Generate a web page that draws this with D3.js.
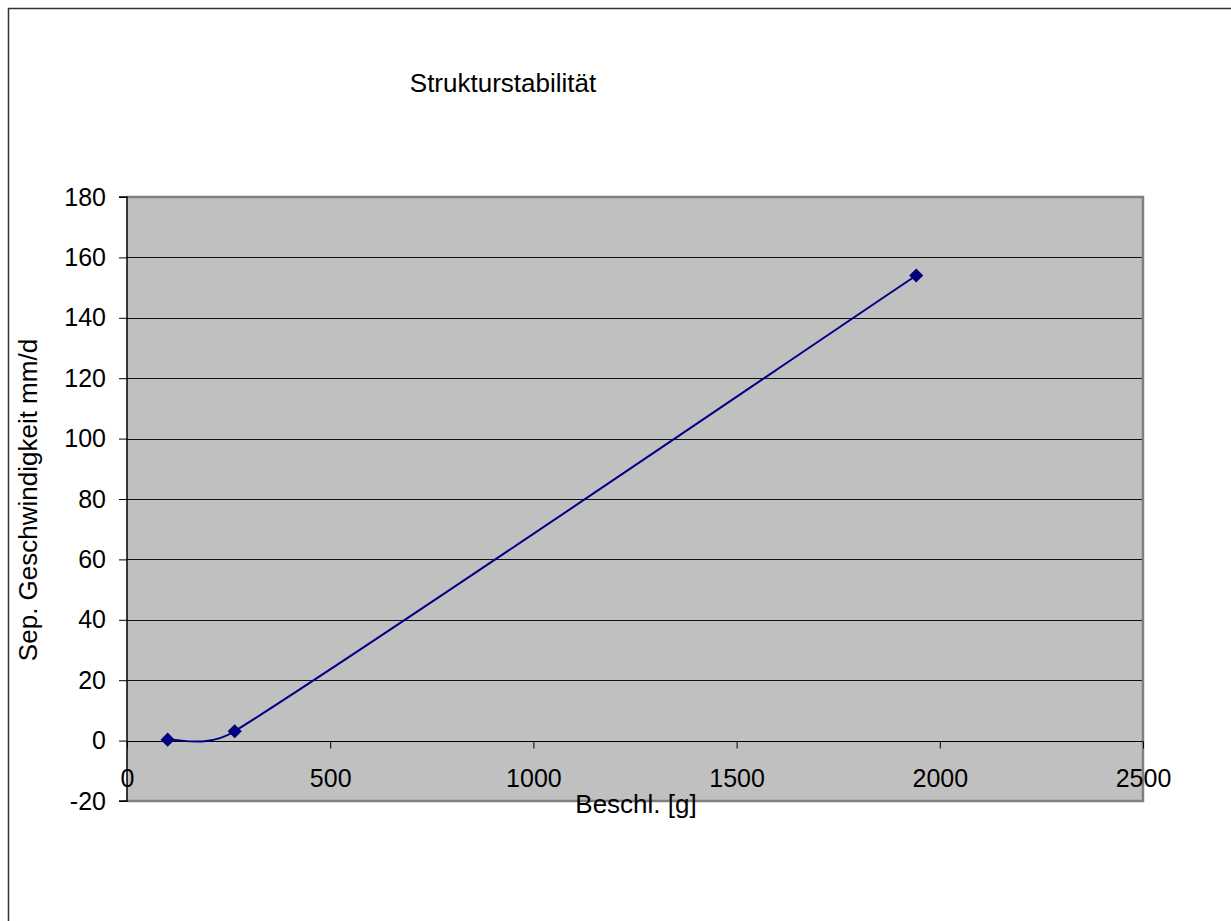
<!DOCTYPE html>
<html>
<head>
<meta charset="utf-8">
<script src="https://cdn.jsdelivr.net/npm/d3@7"></script>
<style>
  html, body { margin: 0; padding: 0; background: #fff; }
  svg { display: block; font-family: "Liberation Sans", Arial, sans-serif; }
</style>
</head>
<body>
<svg id="chart" width="1231" height="921"></svg>
<script>
// Acceleration [g] vs. separation velocity [mm/d]
const beschl = [100, 265, 1942];
const geschw = [0.3, 3.1, 154];
const xTicks = [0, 500, 1000, 1500, 2000, 2500];
const yTicks = [-20, 0, 20, 40, 60, 80, 100, 120, 140, 160, 180];

const titleText = "Strukturstabilität";
const xTitle = "Beschl. [g]";
const yTitle = "Sep. Geschwindigkeit mm/d";

const FONT = "'Liberation Sans', Arial, sans-serif";
const svg = d3.select("#chart");
const plot = { left: 127, right: 1143, top: 197, bottom: 801 };

const x = d3.scaleLinear().domain([0, 2500]).range([plot.left, plot.right]);
const y = d3.scaleLinear().domain([-20, 180]).range([plot.bottom, plot.top]);

// Spreadsheet-style smoothed line: cubic Bezier segments whose tangents
// follow the neighbouring points, clamped to half of each segment length.
function SmoothCurve(context) { this._context = context; }
SmoothCurve.prototype = {
  areaStart() { this._line = 0; },
  areaEnd() { this._line = NaN; },
  lineStart() { this._pts = []; },
  lineEnd() {
    const p = this._pts, n = p.length, c = this._context;
    if (!n) return;
    c.moveTo(p[0][0], p[0][1]);
    if (n === 1) return;
    const tan = i => {
      const a = p[Math.max(i - 1, 0)], b = p[Math.min(i + 1, n - 1)];
      return [(b[0] - a[0]) / 6, (b[1] - a[1]) / 6];
    };
    const clamp = (t, len) => {
      const l = Math.hypot(t[0], t[1]);
      const k = l > len ? len / l : 1;
      return [t[0] * k, t[1] * k];
    };
    for (let i = 0; i < n - 1; i++) {
      const a = p[i], b = p[i + 1];
      const seg = Math.hypot(b[0] - a[0], b[1] - a[1]) / 2;
      const t0 = clamp(tan(i), seg), t1 = clamp(tan(i + 1), seg);
      c.bezierCurveTo(a[0] + t0[0], a[1] + t0[1], b[0] - t1[0], b[1] - t1[1], b[0], b[1]);
    }
  },
  point(px, py) { this._pts.push([+px, +py]); }
};
const curveSmooth = context => new SmoothCurve(context);

// outer chart frame
svg.append("rect")
  .attr("x", 8.5).attr("y", 8.5)
  .attr("width", 1240).attr("height", 940)
  .attr("fill", "#fff").attr("stroke", "#333").attr("stroke-width", 1.5);

// plot area background
svg.append("rect")
  .attr("x", plot.left).attr("y", plot.top)
  .attr("width", plot.right - plot.left).attr("height", plot.bottom - plot.top)
  .attr("fill", "#c0c0c0");

// horizontal gridlines
svg.append("g")
  .selectAll("line")
  .data(yTicks.filter(v => v > -20 && v < 180))
  .join("line")
  .attr("x1", plot.left).attr("x2", plot.right)
  .attr("y1", d => Math.round(y(d)) + 0.5).attr("y2", d => Math.round(y(d)) + 0.5)
  .attr("stroke", "#111").attr("stroke-width", 1);

// plot area border (top, right, bottom)
svg.append("path")
  .attr("d", `M${plot.left},${plot.top}H${plot.right}V${plot.bottom}H${plot.left}`)
  .attr("fill", "none").attr("stroke", "#808080").attr("stroke-width", 2.5);

// y axis
const yAxis = d3.axisLeft(y).tickValues(yTicks).tickSize(8).tickPadding(13).tickFormat(d => String(d));
const gy = svg.append("g").attr("transform", `translate(${plot.left},0)`).call(yAxis);
gy.attr("font-size", null).attr("font-family", null);
gy.select(".domain").attr("stroke", "#000").attr("stroke-width", 1.5).attr("d", `M-8,${plot.top}H0V${plot.bottom}H-8`);
gy.selectAll(".tick line").attr("stroke", "#000");
gy.selectAll(".tick text").attr("font-size", 25).attr("fill", "#000").attr("font-family", FONT);

// x axis drawn along the zero line
const y0 = Math.round(y(0)) + 0.5;
const xAxis = d3.axisBottom(x).tickValues(xTicks).tickSize(7).tickFormat(d => String(d));
const gx = svg.append("g").attr("transform", `translate(0,${y0})`).call(xAxis);
gx.attr("font-size", null).attr("font-family", null);
gx.select(".domain").attr("stroke", "#000").attr("stroke-width", 1).attr("d", `M${plot.left},0H${plot.right}`);
gx.selectAll(".tick line").attr("stroke", "#000");
gx.selectAll(".tick text").attr("font-size", 25).attr("fill", "#000").attr("font-family", FONT)
  .attr("y", 787 - y0).attr("dy", 0);

// data series
const pts = beschl.map((v, i) => [v, geschw[i]]);
const line = d3.line()
  .x(d => x(d[0])).y(d => y(d[1]))
  .curve(curveSmooth);

svg.append("path")
  .datum(pts)
  .attr("d", line)
  .attr("fill", "none").attr("stroke", "#000080").attr("stroke-width", 2);

svg.append("g")
  .selectAll("path")
  .data(pts)
  .join("path")
  .attr("d", d3.symbol(d3.symbolSquare, 100))
  .attr("transform", d => `translate(${x(d[0])},${y(d[1])}) rotate(45)`)
  .attr("fill", "#000080");

// titles
svg.append("text")
  .attr("x", 503).attr("y", 92)
  .attr("text-anchor", "middle").attr("font-size", 26).attr("fill", "#000")
  .text(titleText);

svg.append("text")
  .attr("x", 636).attr("y", 813)
  .attr("text-anchor", "middle").attr("font-size", 26).attr("fill", "#000")
  .text(xTitle);

svg.append("text")
  .attr("transform", "translate(37,500) rotate(-90)")
  .attr("text-anchor", "middle").attr("font-size", 26).attr("fill", "#000")
  .text(yTitle);
</script>
</body>
</html>
